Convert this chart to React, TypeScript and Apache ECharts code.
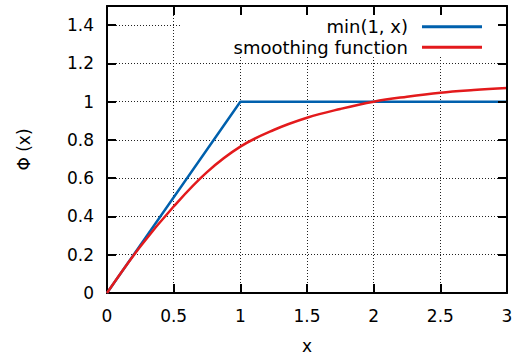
import { useEffect, useRef } from "react";
import * as echarts from "echarts";

// Piecewise-linear reference curve: min(1, x)
const xLinear = [0, 1, 3];
const yLinear = [0, 1, 1];

// Smoothing function Φ(x), sampled every 0.25
const xSmooth = [0, 0.25, 0.5, 0.75, 1, 1.25, 1.5, 1.75, 2, 2.25, 2.5, 2.75, 3];
const ySmooth = [0, 0.243, 0.452, 0.632, 0.765, 0.852, 0.916, 0.962, 1.0, 1.026, 1.047, 1.061, 1.072];

const seriesNames = ["min(1, x)", "smoothing function"];
const seriesColors = ["#0060ad", "#e31a1c"];

// Axis ranges and tick steps
const xRange = [0, 3];
const xStep = 0.5;
const yRange = [0, 1.5];
const yStep = 0.2;

const axisTitles = { x: "x", y: "Φ (x)" };

const FONT = "DejaVu Sans";
const FONT_SIZE = 17;

export default function App() {
  const ref = useRef<HTMLDivElement>(null);

  useEffect(() => {
    const chart = echarts.init(ref.current!, null, { renderer: "svg" });

    const frameLine = { show: true, onZero: false, lineStyle: { color: "#000", width: 2 } };
    const frameTick = { show: true, inside: true, length: 9, lineStyle: { color: "#000", width: 2 } };
    const labelText = { color: "#000", fontSize: FONT_SIZE, fontFamily: FONT };
    const gridDots = { show: true, lineStyle: { color: "#222", width: 1, type: [1, 2] } };

    const legendBase = {
      orient: "vertical",
      align: "right",
      right: 30,
      icon: "rect",
      itemWidth: 60,
      itemHeight: 3,
      padding: 0,
      selectedMode: false,
      textStyle: { ...labelText, fontSize: 18, lineHeight: 20, padding: [0, 9, 0, 0] },
    };

    chart.setOption({
      animation: false,
      backgroundColor: "#fff",
      grid: {
        left: 107,
        right: 5,
        top: 6,
        bottom: 63,
        containLabel: false,
        outerBoundsMode: "none",
      },
      xAxis: [
        {
          type: "value",
          min: xRange[0],
          max: xRange[1],
          interval: xStep,
          position: "bottom",
          z: 0,
          axisLine: frameLine,
          axisTick: frameTick,
          axisLabel: { ...labelText, margin: 14 },
          splitLine: gridDots,
          name: axisTitles.x,
          nameLocation: "middle",
          nameGap: 44,
          nameTextStyle: labelText,
        },
        {
          type: "value",
          min: xRange[0],
          max: xRange[1],
          interval: xStep,
          position: "top",
          z: 3,
          axisLine: frameLine,
          axisTick: frameTick,
          axisLabel: { show: false },
          splitLine: { show: false },
        },
      ],
      yAxis: [
        {
          type: "value",
          min: yRange[0],
          max: yRange[1],
          interval: yStep,
          position: "left",
          z: 0,
          axisLine: frameLine,
          axisTick: frameTick,
          axisLabel: { ...labelText, margin: 13, showMaxLabel: false },
          splitLine: gridDots,
          name: axisTitles.y,
          nameLocation: "middle",
          nameGap: 75,
          nameRotate: 90,
          nameTextStyle: labelText,
        },
        {
          type: "value",
          min: yRange[0],
          max: yRange[1],
          interval: yStep,
          position: "right",
          z: 3,
          axisLine: frameLine,
          axisTick: frameTick,
          axisLabel: { show: false },
          splitLine: { show: false },
        },
      ],
      // Opaque key box hides the dotted grid behind the legend
      graphic: [
        {
          type: "rect",
          z: 1,
          silent: true,
          shape: { x: 181, y: 8, width: 324, height: 49 },
          style: { fill: "#fff" },
        },
      ],
      legend: [
        { ...legendBase, data: [seriesNames[0]], top: 16.7 },
        { ...legendBase, data: [seriesNames[1]], top: 37.3 },
      ],
      series: [
        {
          name: seriesNames[0],
          type: "line",
          xAxisIndex: 0,
          yAxisIndex: 0,
          data: xLinear.map((x, i) => [x, yLinear[i]]),
          symbol: "none",
          z: 2,
          lineStyle: { color: seriesColors[0], width: 2.5 },
          itemStyle: { color: seriesColors[0] },
        },
        {
          name: seriesNames[1],
          type: "line",
          xAxisIndex: 0,
          yAxisIndex: 0,
          data: xSmooth.map((x, i) => [x, ySmooth[i]]),
          symbol: "none",
          smooth: 0.4,
          z: 2,
          lineStyle: { color: seriesColors[1], width: 2.5 },
          itemStyle: { color: seriesColors[1] },
        },
      ],
    });

    return () => chart.dispose();
  }, []);

  return (
    <div
      ref={ref}
      style={{ position: "fixed", left: 0, top: 0, width: 512, height: 356, background: "#fff" }}
    />
  );
}
